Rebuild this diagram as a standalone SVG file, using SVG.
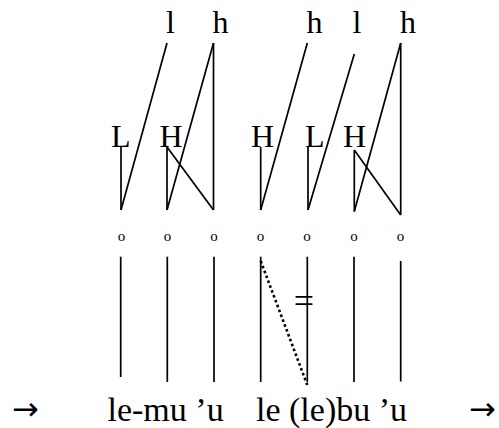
<svg xmlns="http://www.w3.org/2000/svg" width="499" height="428" viewBox="0 0 499 428">
<style>
  text { font-family: "Liberation Serif", "Times New Roman", serif; fill: #000; }
  .t { font-size: 32px; }
  .o { font-size: 15px; text-anchor: middle; }
  .b { font-size: 34px; }
  .ar { font-family: "DejaVu Sans", sans-serif; font-size: 32px; }
  .ln { stroke: #000; stroke-width: 1.7; fill: none; stroke-linecap: butt; }
  .dot { stroke: #000; stroke-width: 2.6; fill: none; stroke-dasharray: 2.6 2.6; }
</style>
<rect width="499" height="428" fill="#fff"/>
<g id="top-l1"><text class="t" x="166" y="33">l</text></g>
<g id="top-h1"><text class="t" x="212.5" y="33">h</text></g>
<g id="top-h2"><text class="t" x="306.5" y="33">h</text></g>
<g id="top-l2"><text class="t" x="352.5" y="33">l</text></g>
<g id="top-h3"><text class="t" x="400" y="33">h</text></g>
<g id="tone-L1"><text class="t" x="111" y="147">L</text></g>
<g id="tone-H1"><text class="t" x="159.5" y="147">H</text></g>
<g id="tone-H2"><text class="t" x="251" y="147">H</text></g>
<g id="tone-L2"><text class="t" x="305" y="147">L</text></g>
<g id="tone-H3"><text class="t" x="343" y="147">H</text></g>
<g id="mora">
  <text class="o" x="121.5" y="240.5">o</text>
  <text class="o" x="167.5" y="240.5">o</text>
  <text class="o" x="214" y="240.5">o</text>
  <text class="o" x="260.5" y="240.5">o</text>
  <text class="o" x="307" y="240.5">o</text>
  <text class="o" x="354" y="240.5">o</text>
  <text class="o" x="400.5" y="240.5">o</text>
</g>
<g id="neq"><text x="304" y="312.5" text-anchor="middle" font-size="36">=</text></g>
<g id="arrow-left"><text class="ar" x="12" y="420.3">→</text></g>
<g id="word1"><text class="b" x="107.5" y="421">le-mu ’u</text></g>
<g id="word2"><text class="b" x="256" y="421">le (le)bu ’u</text></g>
<g id="arrow-right"><text class="ar" x="469" y="420.3">→</text></g>
<g id="connectors">
  <line class="ln" x1="121" y1="147" x2="121" y2="210"/>
  <line class="ln" x1="121" y1="210" x2="167" y2="43"/>
  <line class="ln" x1="167" y1="147" x2="167" y2="210"/>
  <line class="ln" x1="167" y1="210" x2="213.5" y2="43"/>
  <line class="ln" x1="213.5" y1="43" x2="213.5" y2="210"/>
  <line class="ln" x1="167" y1="147" x2="213.5" y2="210"/>
  <line class="ln" x1="260.7" y1="147" x2="260.7" y2="210"/>
  <line class="ln" x1="260.7" y1="210" x2="307.3" y2="43"/>
  <line class="ln" x1="308" y1="147" x2="308" y2="210"/>
  <line class="ln" x1="308" y1="210" x2="354.3" y2="54"/>
  <line class="ln" x1="354.3" y1="150" x2="354.3" y2="211.5"/>
  <line class="ln" x1="354.3" y1="211.5" x2="400.7" y2="43"/>
  <line class="ln" x1="400.7" y1="43" x2="400.7" y2="215"/>
  <line class="ln" x1="354.3" y1="150" x2="400.7" y2="215"/>
  <line class="ln" x1="120.7" y1="256.7" x2="120.7" y2="377"/>
  <line class="ln" x1="167.3" y1="256.7" x2="167.3" y2="382"/>
  <line class="ln" x1="214" y1="256.7" x2="214" y2="382"/>
  <line class="ln" x1="260.7" y1="256.7" x2="260.7" y2="382"/>
  <line class="ln" x1="307.3" y1="256.7" x2="307.3" y2="382"/>
  <line class="ln" x1="354" y1="256.7" x2="354" y2="382"/>
  <line class="ln" x1="400.7" y1="261" x2="400.7" y2="381.5"/>
  <line class="dot" x1="260.7" y1="261" x2="307.3" y2="385"/>
</g>
</svg>
